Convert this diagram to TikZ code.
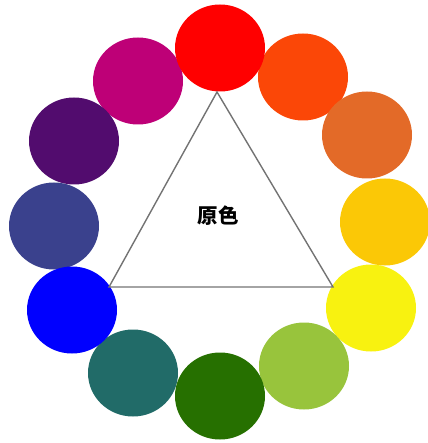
\documentclass[tikz,border=0pt]{standalone}
\usepackage{fontspec}
\newfontfamily\cjk{Noto Sans CJK SC}
\definecolor{cRed}{HTML}{FF0000}
\definecolor{cOrRed}{HTML}{FB4707}
\definecolor{cOrange}{HTML}{E36A28}
\definecolor{cYelOr}{HTML}{FBC806}
\definecolor{cYellow}{HTML}{F8F210}
\definecolor{cYelGr}{HTML}{98C43C}
\definecolor{cGreen}{HTML}{267000}
\definecolor{cTeal}{HTML}{216B68}
\definecolor{cBlue}{HTML}{0000FF}
\definecolor{cBluVi}{HTML}{3A418D}
\definecolor{cPurple}{HTML}{520C6E}
\definecolor{cMagenta}{HTML}{BE0077}
\tikzset{
  disc/.style={ellipse, minimum width=90pt, minimum height=87pt, inner sep=0pt, fill=#1},
  edge/.style={draw=black!55, line width=1.4pt},
}
\usetikzlibrary{shapes.geometric}
\begin{document}
\begin{tikzpicture}[x=1pt,y=-1pt]
\useasboundingbox (0,0) rectangle (427,443);
\node[disc=cMagenta] (magenta) at (138,81) {};
\node[disc=cOrRed] (orred) at (303,77) {};
\node[disc=cRed] (red) at (220,48) {};
\node[disc=cOrange] (orange) at (367,135) {};
\node[disc=cYelOr] (yelor) at (385,222) {};
\node[disc=cYellow] (yellow) at (371,308) {};
\node[disc=cYelGr] (yelgr) at (304,366) {};
\node[disc=cTeal] (teal) at (133,373) {};
\node[disc=cGreen] (green) at (220,396) {};
\node[disc=cPurple] (purple) at (74,141) {};
\node[disc=cBluVi] (bluvi) at (54,226) {};
\node[disc=cBlue] (blue) at (72,310) {};
\coordinate (tA) at (217,92);
\coordinate (tB) at (109,287);
\coordinate (tC) at (333,287);
\draw[edge] (tA) -- (tB) -- (tC) -- cycle;
\node[font=\cjk\bfseries\fontsize{20.5}{20.5}\selectfont, inner sep=0pt] (label) at (218,216) {原色};
\end{tikzpicture}
\end{document}
